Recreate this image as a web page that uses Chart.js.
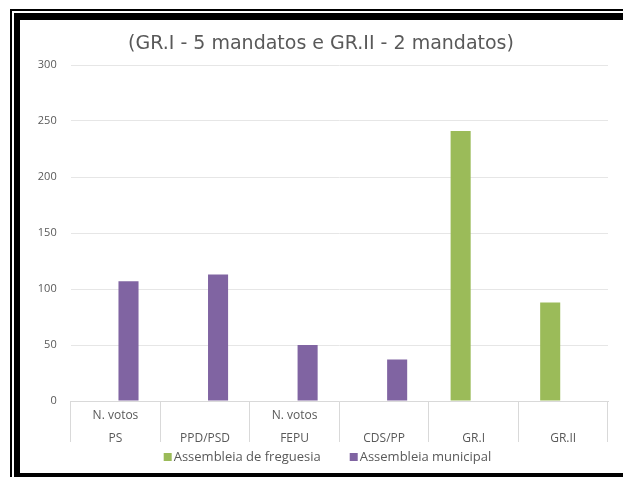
<!DOCTYPE html>
<html>
<head>
<meta charset="utf-8">
<script src="https://cdn.jsdelivr.net/npm/chart.js@4"></script>
<style>
  html, body { margin: 0; padding: 0; background: #fff; width: 623px; height: 477px; overflow: hidden; }
  .ln { position: absolute; background: #000; z-index: 11; }
  #wrap { position: absolute; left: 20px; top: 20px; width: 603px; height: 453px; background: #fff; }
  #cover { position: absolute; left: 610px; top: 0; width: 13px; height: 477px; background: #fff; z-index: 10; }
</style>
</head>
<body>
<div id="wrap"><canvas id="c" width="603" height="453"></canvas></div>
<div id="cover"></div>
<div class="ln" style="left:10px;top:9px;width:613px;height:2px"></div>
<div class="ln" style="left:10px;top:9px;width:2px;height:468px"></div>
<div class="ln" style="left:14px;top:13px;width:609px;height:7px"></div>
<div class="ln" style="left:14px;top:13px;width:6px;height:464px"></div>
<div class="ln" style="left:14px;top:473px;width:609px;height:4px"></div>
<script>
const titleText = '(GR.I - 5 mandatos e GR.II - 2 mandatos)';
const categories = [['N. votos', 'PS'], ['', 'PPD/PSD'], ['N. votos', 'FEPU'], ['', 'CDS/PP'], ['', 'GR.I'], ['', 'GR.II']];
const seriesNames = ['Assembleia de freguesia', 'Assembleia municipal'];
const freguesia = [null, null, null, null, 241, 88];
const municipal = [107, 113, 50, 37, null, null];
const yTicks = [0, 50, 100, 150, 200, 250, 300];

const grey = '#595959';
const fontFam = '"Open Sans", "Liberation Sans", sans-serif';

const bottomLegend = {
  id: 'bottomLegend',
  afterDraw(chart) {
    const ctx = chart.ctx;
    const ds = chart.data.datasets;
    const box = 8, gapText = 2, gapItem = 29;
    ctx.save();
    ctx.font = '13px ' + fontFam;
    ctx.textBaseline = 'middle';
    ctx.textAlign = 'left';
    const widths = ds.map(d => box + gapText + ctx.measureText(d.label).width);
    const total = widths.reduce((a, b) => a + b, 0) + gapItem * (ds.length - 1);
    let x = 307.5 - total / 2;
    const y = 437;
    ds.forEach((d, i) => {
      ctx.fillStyle = d.backgroundColor;
      ctx.fillRect(x, y - box / 2, box, box);
      ctx.fillStyle = grey;
      ctx.fillText(d.label, x + box + gapText, y + 0.5);
      x += widths[i] + gapItem;
    });
    ctx.restore();
  }
};

new Chart(document.getElementById('c'), {
  type: 'bar',
  data: {
    labels: categories,
    datasets: [
      { label: seriesNames[0], data: freguesia, backgroundColor: '#9BBB59', categoryPercentage: 0.582, barPercentage: 0.77 },
      { label: seriesNames[1], data: municipal, backgroundColor: '#8064A2', categoryPercentage: 0.582, barPercentage: 0.77 }
    ]
  },
  plugins: [bottomLegend],
  options: {
    responsive: false,
    animation: false,
    layout: { padding: { left: 14, right: 15, top: 0, bottom: 28 } },
    plugins: {
      title: { display: true, text: titleText, color: grey, font: { family: '"DejaVu Sans", sans-serif', size: 19, weight: 'normal' }, padding: { top: 12.6, bottom: 9.6 } },
      legend: { display: false },
      tooltip: { enabled: false }
    },
    scales: {
      x: {
        grid: { display: true, drawOnChartArea: false, color: '#d9d9d9', tickLength: 41, offset: true },
        border: { display: true, color: '#d9d9d9' },
        ticks: { color: grey, font: { family: fontFam, size: 12, lineHeight: 1.9 }, padding: -38, maxRotation: 0, autoSkip: false },
        afterFit: (s) => { s.height = 44; }
      },
      y: {
        min: 0, max: 300,
        afterBuildTicks: (s) => { s.ticks = yTicks.map(v => ({ value: v })); },
        grid: { color: '#e6e6e6', drawTicks: false },
        border: { display: false },
        ticks: { color: grey, font: { family: fontFam, size: 11 }, padding: 14 },
        afterFit: (s) => { s.width = 36.7; }
      }
    }
  }
});
</script>
</body>
</html>
